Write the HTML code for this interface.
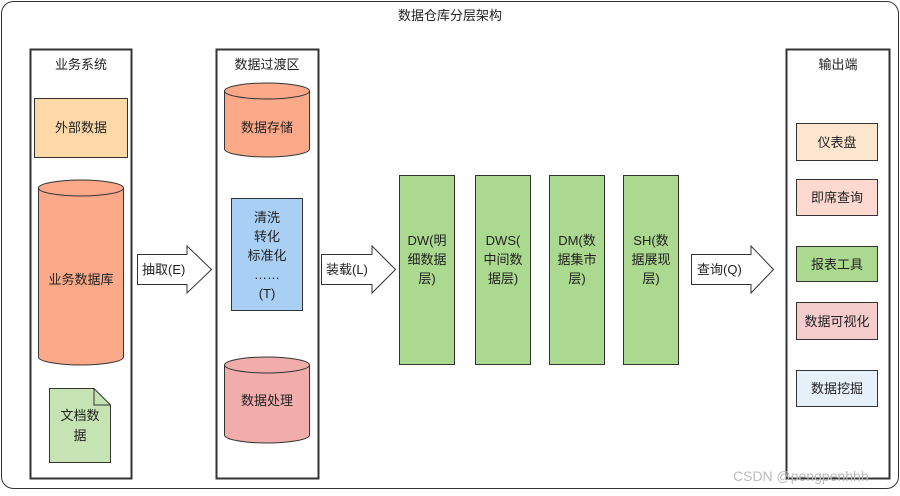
<!DOCTYPE html>
<html><head><meta charset="utf-8"><style>
html,body{margin:0;padding:0;background:#fff}
svg text{font-family:"Liberation Sans","Noto Sans CJK SC",sans-serif;font-size:13px;fill:#222}
</style></head><body>
<svg width="900" height="491" viewBox="0 0 900 491" xmlns="http://www.w3.org/2000/svg">
<rect x="1.5" y="1.5" width="897" height="487" rx="12" fill="#fff" stroke="#333" stroke-width="1"/>
<text x="450" y="20" text-anchor="middle">数据仓库分层架构</text>

<!-- columns -->
<rect x="30.5" y="49.5" width="101" height="429" fill="#fff" stroke="#333" stroke-width="2"/>
<text x="81" y="69" text-anchor="middle">业务系统</text>
<rect x="216.5" y="49.5" width="102" height="429" fill="#fff" stroke="#333" stroke-width="2"/>
<text x="267" y="69" text-anchor="middle">数据过渡区</text>
<rect x="786.5" y="49.5" width="103" height="429" fill="#fff" stroke="#333" stroke-width="2"/>
<text x="838" y="69" text-anchor="middle">输出端</text>

<!-- 业务系统 items -->
<rect x="34.5" y="98.5" width="93" height="59" fill="#fdd9a9" stroke="#333"/>
<text x="81" y="132" text-anchor="middle">外部数据</text>
<path d="M38.5 188 A42.5 8 0 0 1 123.5 188 V357 A42.5 8 0 0 1 38.5 357 Z" fill="#fca98a" stroke="#333"/>
<path d="M38.5 188 A42.5 8 0 0 0 123.5 188" fill="none" stroke="#333"/>
<text x="81" y="284" text-anchor="middle">业务数据库</text>
<path d="M49.5 388.5 H94 L110.5 405 V462.5 H49.5 Z" fill="#c5e3b3" stroke="#333"/>
<path d="M94 388.5 V405 H110.5" fill="none" stroke="#333"/>
<text x="80" y="420" text-anchor="middle">文档数</text>
<text x="80" y="440" text-anchor="middle">据</text>

<!-- 过渡区 items -->
<path d="M224.5 91 A42.5 8 0 0 1 309.5 91 V149 A42.5 8 0 0 1 224.5 149 Z" fill="#fca98a" stroke="#333"/>
<path d="M224.5 91 A42.5 8 0 0 0 309.5 91" fill="none" stroke="#333"/>
<text x="267" y="132" text-anchor="middle">数据存储</text>
<rect x="231.5" y="198.5" width="71" height="112" fill="#a9cff5" stroke="#333"/>
<text x="267" y="222" text-anchor="middle">清洗</text>
<text x="267" y="241" text-anchor="middle">转化</text>
<text x="267" y="260" text-anchor="middle">标准化</text>
<text x="267" y="279" text-anchor="middle">……</text>
<text x="267" y="298" text-anchor="middle">(T)</text>
<path d="M224.5 365 A42.5 8 0 0 1 309.5 365 V435 A42.5 8 0 0 1 224.5 435 Z" fill="#f1acac" stroke="#333"/>
<path d="M224.5 365 A42.5 8 0 0 0 309.5 365" fill="none" stroke="#333"/>
<text x="267" y="405" text-anchor="middle">数据处理</text>

<!-- arrows -->
<path d="M137.5 254.5 H187 V246 L211.5 269.5 L187 293 V284.5 H137.5 Z" fill="#fff" stroke="#333"/>
<text x="142" y="274">抽取(E)</text>
<path d="M321.5 254.5 H372 V246 L395.5 269.5 L372 293 V284.5 H321.5 Z" fill="#fff" stroke="#333"/>
<text x="326" y="274">装载(L)</text>
<path d="M691.5 254.5 H751 V246 L773.5 269.5 L751 293 V284.5 H691.5 Z" fill="#fff" stroke="#333"/>
<text x="697" y="274">查询(Q)</text>

<!-- green layers -->
<g fill="#abd98f" stroke="#333">
<rect x="399.5" y="175.5" width="55" height="189"/>
<rect x="475.5" y="175.5" width="55" height="189"/>
<rect x="549.5" y="175.5" width="55" height="189"/>
<rect x="623.5" y="175.5" width="55" height="189"/>
</g>
<text x="427" y="245" text-anchor="middle">DW(明</text>
<text x="427" y="264" text-anchor="middle">细数据</text>
<text x="427" y="283" text-anchor="middle">层)</text>
<text x="503" y="245" text-anchor="middle">DWS(</text>
<text x="503" y="264" text-anchor="middle">中间数</text>
<text x="503" y="283" text-anchor="middle">据层)</text>
<text x="577" y="245" text-anchor="middle">DM(数</text>
<text x="577" y="264" text-anchor="middle">据集市</text>
<text x="577" y="283" text-anchor="middle">层)</text>
<text x="651" y="245" text-anchor="middle">SH(数</text>
<text x="651" y="264" text-anchor="middle">据展现</text>
<text x="651" y="283" text-anchor="middle">层)</text>

<!-- outputs -->
<g stroke="#333">
<rect x="796.5" y="123.5" width="81" height="37" fill="#fde6cf"/>
<rect x="796.5" y="179.5" width="81" height="36" fill="#fdd9cf"/>
<rect x="796.5" y="246.5" width="81" height="35" fill="#abd98f"/>
<rect x="796.5" y="302.5" width="81" height="37" fill="#f4cccc"/>
<rect x="796.5" y="370.5" width="81" height="36" fill="#e6f0fb"/>
</g>
<text x="837" y="147" text-anchor="middle">仪表盘</text>
<text x="837" y="202" text-anchor="middle">即席查询</text>
<text x="837" y="269" text-anchor="middle">报表工具</text>
<text x="837" y="326" text-anchor="middle">数据可视化</text>
<text x="837" y="393" text-anchor="middle">数据挖掘</text>

<text x="733" y="481" style="fill:#bbb;font-size:14px">CSDN @pengpenhhh</text>
</svg>
</body></html>
